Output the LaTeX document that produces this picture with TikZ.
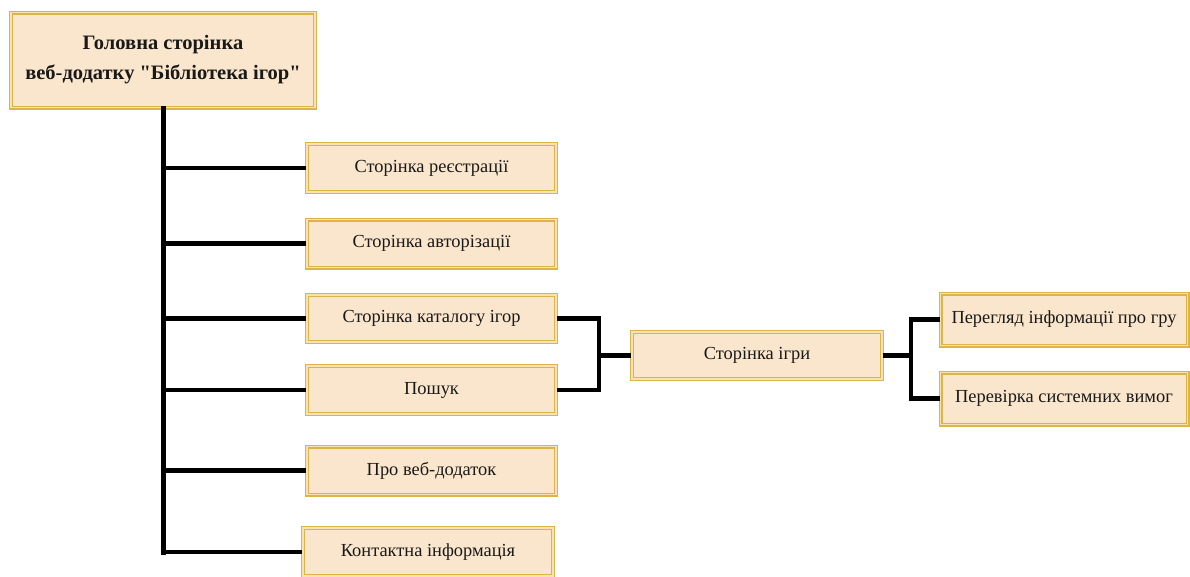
\documentclass[tikz,border=0pt]{standalone}
\usepackage{fontspec}
\setmainfont{Liberation Serif}[Ligatures=TeXOff]
\definecolor{boxfill}{RGB}{250,230,204}
\definecolor{boxedge}{RGB}{222,180,72}
\definecolor{boxgap}{RGB}{248,226,180}
\begin{document}
\begin{tikzpicture}[x=1pt,y=-1pt,
  page/.style={draw=boxedge, line width=1.2pt, double=boxgap, double distance=1.6pt,
    fill=boxfill, inner sep=0pt, minimum width=249pt, minimum height=48pt,
    font=\fontsize{18.4}{22}\selectfont, text=black!90},
  trunk/.style={line width=5pt, line cap=rect},
  link/.style={line width=4.2pt}]
\useasboundingbox (0,0) rectangle (1190,576);

% main page
\node[page, minimum width=304pt, minimum height=95pt, align=center,
  font=\bfseries\fontsize{20.5}{30}\selectfont] (main) at (163,60)
  {Головна сторінка\\веб-додатку "Бібліотека ігор"};

% first-level pages
\node[page] (b1) at (431.5,168) {Сторінка реєстрації};
\node[page] (b2) at (431.5,243.5) {Сторінка авторізації};
\node[page, minimum height=47pt] (b3) at (431.5,318.5) {Сторінка каталогу ігор};
\node[page] (b4) at (431.5,390) {Пошук};
\node[page] (b5) at (431.5,470.5) {Про веб-додаток};
\node[page, minimum width=250pt] (b6) at (428,552) {Контактна інформація};

% game page and its sub-pages
\node[page, minimum width=250pt, minimum height=47pt] (game) at (757,355.5) {Сторінка ігри};
\node[page, minimum width=247pt, minimum height=52pt] (r1) at (1064,319.5) {Перегляд інформації про гру};
\node[page, minimum width=247pt, minimum height=52pt] (r2) at (1064,398.5) {Перевірка системних вимог};

% trunk and branches
\draw[trunk] (main.south) -- (main.south |- b6.west);
\foreach \b in {b1,b2,b3,b4,b5,b6}
  \draw[link] (main.south |- \b.west) -- (\b.west);

% catalogue and search lead to the game page
\draw[link] (b3.east) -- ++(42,0) coordinate (k) |- (b4.east);
\draw[link] (k |- game.west) -- (game.west);

% game page branches
\draw[link] (game.east) -- ++(28,0) coordinate (j);
\draw[link] (r1.west) -| (j) |- (r2.west);
\end{tikzpicture}
\end{document}
